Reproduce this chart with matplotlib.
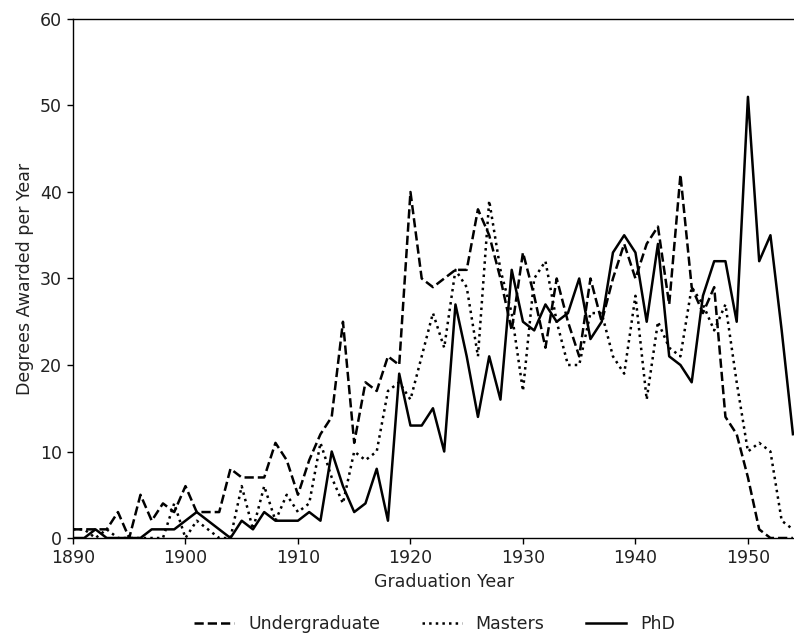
import matplotlib
matplotlib.use("Agg")
import matplotlib.pyplot as plt

years = list(range(1890, 1955))

undergrad = [1, 1, 1, 1, 3, 0, 5, 2, 4, 3,
             6, 3, 3, 3, 8, 7, 7, 7, 11, 9,
             5, 9, 12, 14, 25, 11, 18, 17, 21, 20,
             40, 30, 29, 30, 31, 31, 38, 35, 30, 24,
             33, 28, 22, 30, 25, 21, 30, 25, 30, 34,
             30, 34, 36, 27, 42, 29, 26, 29, 14, 12,
             7, 1, 0, 0, 0]

masters = [1, 1, 0, 1, 0, 0, 0, 0, 0, 4,
           0, 2, 1, 0, 0, 6, 1, 6, 2, 5,
           3, 4, 11, 7, 4, 10, 9, 10, 17, 18,
           16, 21, 26, 22, 31, 29, 21, 39, 31, 26,
           17, 30, 32, 25, 20, 20, 26, 26, 21, 19,
           28, 16, 25, 22, 21, 29, 27, 24, 27, 18,
           10, 11, 10, 2, 1]

phd = [0, 0, 1, 0, 0, 0, 0, 1, 1, 1,
       2, 3, 2, 1, 0, 2, 1, 3, 2, 2,
       2, 3, 2, 10, 6, 3, 4, 8, 2, 19,
       13, 13, 15, 10, 27, 21, 14, 21, 16, 31,
       25, 24, 27, 25, 26, 30, 23, 25, 33, 35,
       33, 25, 34, 21, 20, 18, 28, 32, 32, 25,
       51, 32, 35, 24, 12]

plt.rcParams["font.size"] = 12.5
plt.rcParams["lines.linewidth"] = 1.8
plt.rcParams["text.color"] = "#222222"
plt.rcParams["axes.labelcolor"] = "#222222"
plt.rcParams["xtick.labelcolor"] = "#222222"
plt.rcParams["ytick.labelcolor"] = "#222222"

fig = plt.figure(figsize=(7.94, 6.37), dpi=100)
ax = fig.add_axes([0.0919, 0.1554, 0.9351, 0.8148])

ax.plot(years, undergrad, "k--", label="Undergraduate")
ax.plot(years, masters, "k:", label="Masters")
ax.plot(years, phd, "k-", label="PhD")

ax.set_xlim(1890, 1956)
ax.set_ylim(0, 60)
ax.set_xticks(range(1890, 1951, 10))
ax.set_yticks(range(0, 61, 10))
ax.tick_params(length=4.5, width=1.0)
for s in ax.spines.values():
    s.set_linewidth(1.0)

ax.set_xlabel("Graduation Year")
ax.set_ylabel("Degrees Awarded per Year")
ax.legend(loc="center", bbox_to_anchor=(0.487, -0.166), ncol=3, frameon=False,
          handlelength=2.3, columnspacing=2.4)

fig.savefig("out.png", dpi=100)
